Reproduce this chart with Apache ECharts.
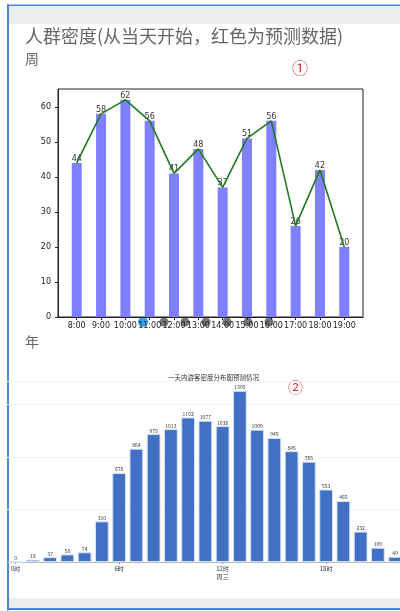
<!DOCTYPE html>
<html>
<head>
<meta charset="utf-8">
<script src="https://cdn.jsdelivr.net/npm/echarts@6/dist/echarts.min.js"></script>
<style>
  html, body { margin: 0; padding: 0; background: #fff; }
  #main { width: 400px; height: 611px; }
</style>
</head>
<body>
<div id="main"></div>
<script>
// top chart: hourly density
const hours = ['8:00', '9:00', '10:00', '11:00', '12:00', '13:00', '14:00', '15:00', '16:00', '17:00', '18:00', '19:00']
const weekValues = [44, 58, 62, 56, 41, 48, 37, 51, 56, 26, 42, 20]
const weekTicks = [0, 10, 20, 30, 40, 50, 60]

// bottom chart: one day forecast
const dayHours = Array.from({length: 24}, (_, i) => i + '时')
const dayValues = [0, 18, 37, 58, 74, 310, 678, 864, 975, 1013, 1102, 1077, 1036, 1305, 1009, 945, 845, 765, 553, 465, 232, 109, 40, 12]

const font = '"Noto Sans CJK SC", "Noto Sans", sans-serif'
const chart = echarts.init(document.getElementById('main'))

const dotsX = [164, 185, 206, 227, 248, 269]

const option = {
  backgroundColor: '#fff',
  animation: false,
  textStyle: { fontFamily: font },
  grid: [
    { left: 58, top: 89, width: 305, height: 228, show: true, borderColor: '#222', borderWidth: 1, backgroundColor: 'transparent', outerBoundsMode: 'none' },
    { left: 7, top: 381, width: 414, height: 181, outerBoundsMode: 'none' }
  ],
  xAxis: [
    {
      type: 'value', gridIndex: 0, min: -0.77, max: 11.77,
      splitLine: { show: false },
      axisLine: { show: true, onZero: false, lineStyle: { color: '#222' } },
      axisTick: { show: true, length: 3, customValues: hours.map((h, i) => i), lineStyle: { color: '#222' } },
      axisLabel: {
        customValues: hours.map((h, i) => i),
        formatter: v => hours[v],
        fontSize: 8, color: '#222', margin: 5, fontFamily: '"DejaVu Sans", sans-serif'
      }
    },
    {
      type: 'category', gridIndex: 1, data: dayHours,
      axisLine: { show: true, lineStyle: { color: '#bbb' } },
      axisTick: { show: true, alignWithLabel: true, interval: 5, length: 2, lineStyle: { color: '#999' } },
      axisLabel: {
        interval: 5, fontSize: 6, color: '#333', margin: 3, lineHeight: 8,
        formatter: (v, i) => i === 12 ? v + '\n周三' : v
      }
    }
  ],
  yAxis: [
    {
      type: 'value', gridIndex: 0, min: 0, max: 65.1,
      splitLine: { show: false },
      axisLine: { show: true, onZero: false, lineStyle: { color: '#222' } },
      axisTick: { show: true, length: 3, customValues: weekTicks, lineStyle: { color: '#222' } },
      axisLabel: { customValues: weekTicks, fontSize: 8, color: '#222', margin: 7, fontFamily: '"DejaVu Sans", sans-serif' }
    },
    {
      type: 'value', gridIndex: 1, min: 0, max: 1380, interval: 400,
      axisLine: { show: false }, axisTick: { show: false }, axisLabel: { show: false },
      splitLine: { show: true, lineStyle: { color: '#f4f4f4' } }
    }
  ],
  series: [
    {
      type: 'bar', xAxisIndex: 0, yAxisIndex: 0,
      data: weekValues.map((v, i) => [i, v]),
      barWidth: 10,
      itemStyle: { color: '#8080ff' },
      label: { show: true, position: 'top', distance: 0, fontSize: 8, color: '#333', fontFamily: '"DejaVu Sans", sans-serif' }
    },
    {
      type: 'line', xAxisIndex: 0, yAxisIndex: 0,
      data: weekValues.map((v, i) => [i, v]),
      symbol: 'none',
      lineStyle: { color: '#1f7a1f', width: 1.6 },
      z: 3
    },
    {
      type: 'bar', xAxisIndex: 1, yAxisIndex: 1,
      data: dayValues,
      barCategoryGap: '20%',
      itemStyle: { color: '#4170c4', borderColor: '#d3e3f6', borderWidth: 1 },
      label: { show: true, position: 'top', distance: 1, fontSize: 5, color: '#333' }
    }
  ],
  graphic: [
    { type: 'rect', shape: { x: 9, y: 6, width: 391, height: 18 }, style: { fill: '#ececec' } },
    { type: 'rect', shape: { x: 9, y: 598, width: 391, height: 10 }, style: { fill: '#ececec' } },
    { type: 'rect', shape: { x: 7, y: 4.5, width: 393, height: 1.5 }, style: { fill: '#4a86d8' } },
    { type: 'rect', shape: { x: 7, y: 4.5, width: 2, height: 606 }, style: { fill: '#4a86d8' } },
    { type: 'rect', shape: { x: 7, y: 608, width: 393, height: 2 }, style: { fill: '#4a86d8' } },
    { type: 'line', shape: { x1: 9, y1: 381.5, x2: 400, y2: 381.5 }, style: { stroke: '#a8a8a8', lineWidth: 1 } },
    { type: 'text', left: 25, top: 27, style: { text: '人群密度(从当天开始，红色为预测数据)', fontSize: 18, fill: '#666', fontFamily: font } },
    { type: 'text', left: 25, top: 52, style: { text: '周', fontSize: 14, fill: '#666', fontFamily: font } },
    { type: 'text', left: 25, top: 335, style: { text: '年', fontSize: 14, fill: '#666', fontFamily: font } },
    { type: 'text', left: 292, top: 60, style: { text: '①', fontSize: 16, fill: '#c94040', fontFamily: font } },
    { type: 'text', left: 288, top: 380, style: { text: '②', fontSize: 15, fill: '#c94040', fontFamily: font } },
    { type: 'text', left: 168, top: 374, style: { text: '一天内游客密度分布图预测情况', fontSize: 6.5, fill: '#333', fontFamily: font } },
    { type: 'circle', shape: { cx: 143, cy: 322, r: 5 }, style: { fill: '#2aa7ee' } },
    ...dotsX.map(x => ({ type: 'circle', shape: { cx: x, cy: 322, r: 4.5 }, style: { fill: 'rgba(85,85,85,0.8)' } }))
  ]
}

chart.setOption(option)
</script>
</body>
</html>
